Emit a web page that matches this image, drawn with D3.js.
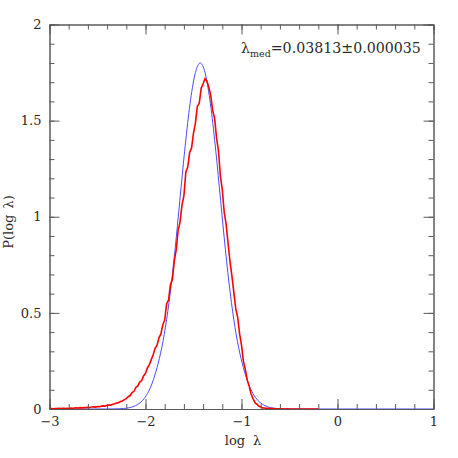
<!DOCTYPE html>
<html>
<head>
<meta charset="utf-8">
<script src="https://cdn.jsdelivr.net/npm/d3@7"></script>
<style>
  body { margin: 0; background: #fff; }
  text { font-family: "DejaVu Serif", serif; fill: #2a2a2a; }
</style>
</head>
<body>
<div id="chart"></div>
<script>
// tick values
var xTicks = [-3, -2, -1, 0, 1];
var xTickLabels = ["\u22123", "\u22122", "\u22121", "0", "1"];
var yTicks = [0, 0.5, 1, 1.5, 2];
var yTickLabels = ["0", "0.5", "1", "1.5", "2"];

// blue curve (model)
var blueX = [-3, -2.43, -2.33, -2.23, -2.18, -2.13, -2.08, -2.03, -1.98, -1.93, -1.88, -1.83, -1.78, -1.73, -1.68, -1.63, -1.58, -1.53, -1.48,
    -1.43,
    -1.38, -1.33, -1.28, -1.23, -1.18, -1.13, -1.08, -1.03, -0.98, -0.93, -0.88, -0.83, -0.78, -0.73, -0.68, -0.63, -0.53, -0.43, 1];
var blueY = [0, 0, 0.0005, 0.0025, 0.0055, 0.012, 0.024, 0.045, 0.08, 0.135, 0.215, 0.32, 0.465, 0.655, 0.89, 1.15, 1.40, 1.61, 1.75,
    1.80,
    1.75, 1.61, 1.40, 1.15, 0.89, 0.655, 0.465, 0.32, 0.215, 0.135, 0.08, 0.045, 0.024, 0.012, 0.0055, 0.0025, 0.0005, 0, 0];

// red histogram, bins of 0.02 in log lambda starting at -3
var redStart = -3;
var redStep = 0.02;
var redY = [
    0.001, 0.002, 0.001, 0.002, 0.002, 0.003, 0.002, 0.003, 0.003, 0.004,
    0.003, 0.005, 0.004, 0.005, 0.006, 0.005, 0.007, 0.006, 0.008, 0.007,
    0.009, 0.008, 0.010, 0.011, 0.010, 0.013, 0.012, 0.015, 0.016, 0.015,
    0.019, 0.021, 0.020, 0.025, 0.027, 0.031, 0.033, 0.039, 0.042, 0.049,
    0.054, 0.064, 0.070, 0.085, 0.092, 0.112, 0.120, 0.140, 0.148, 0.172,
    0.186, 0.214, 0.231, 0.257, 0.282, 0.316, 0.331, 0.370, 0.389, 0.438,
    0.463, 0.548, 0.566, 0.648, 0.672, 0.770, 0.828, 0.931, 0.972, 1.062,
    1.108, 1.232, 1.258, 1.335, 1.358, 1.435, 1.488, 1.575, 1.590, 1.668,
    1.692, 1.718, 1.705, 1.672, 1.630, 1.552, 1.512, 1.410, 1.342, 1.212,
    1.140, 1.022, 0.962, 0.862, 0.768, 0.692, 0.608, 0.522, 0.478, 0.392,
    0.332, 0.248, 0.206, 0.150, 0.119, 0.078, 0.054, 0.033, 0.025, 0.015,
    0.011, 0.006, 0.005, 0.003, 0.003, 0.002, 0.002, 0.001, 0.001, 0.001,
    0.000, 0.001, 0.000, 0.000, 0.001, 0.000, 0.000, 0.000, 0.000, 0.000,
    0.000, 0.000, 0.000, 0.000, 0.000, 0.000, 0.000, 0.000, 0.000, 0.000,
    0.000
];

var annotation = "0.03813\u00b10.000035";

// sizes
var svgWidth = 458;
var svgHeight = 458;
var plot = { left: 49.5, right: 433.5, top: 24.5, bottom: 409 };

var svg = d3.select("#chart")
    .append("svg")
    .attr("width", svgWidth)
    .attr("height", svgHeight);

var x = d3.scaleLinear().domain([-3, 1]).range([plot.left, plot.right]);
var y = d3.scaleLinear().domain([0, 2]).range([plot.bottom, plot.top]);

var xMinor = d3.range(-3, 1.0001, 0.2);
var yMinor = d3.range(0, 2.0001, 0.1);

var axisColor = "#5a5a5a";

// draw one side of the frame: minor ticks, then major ticks (+ labels)
function side(axisFn, scale, pos, major, minor, labels) {
    var g = svg.append("g").attr("transform", pos);
    g.call(axisFn(scale).tickValues(minor).tickSize(-5).tickFormat(""));
    var m = svg.append("g").attr("transform", pos);
    m.call(axisFn(scale).tickValues(major).tickSizeInner(-10).tickSizeOuter(0).tickPadding(8)
        .tickFormat(labels ? (d, i) => labels[i] : ""));
    [g, m].forEach(function(s) {
        s.selectAll("path, line").attr("stroke", axisColor).attr("stroke-width", 1);
        s.selectAll("text").style("font-family", "DejaVu Serif").style("font-size", "13px").attr("fill", "#2a2a2a");
    });
    return m;
}

// clip the curves to the frame
svg.append("clipPath").attr("id", "clip")
    .append("rect")
    .attr("x", plot.left).attr("y", plot.top)
    .attr("width", plot.right - plot.left).attr("height", plot.bottom - plot.top);

var curves = svg.append("g").attr("clip-path", "url(#clip)");

var blueLine = d3.line()
    .x((d, i) => x(blueX[i]))
    .y(d => y(d))
    .curve(d3.curveMonotoneX);

curves.append("path")
    .datum(blueY)
    .attr("d", blueLine)
    .attr("fill", "none")
    .attr("stroke", "#4a4aff")
    .attr("stroke-width", 1);

var redLine = d3.line()
    .x((d, i) => x(redStart + i * redStep))
    .y(d => y(d));

curves.append("path")
    .datum(redY)
    .attr("d", redLine)
    .attr("fill", "none")
    .attr("stroke", "#ff0000")
    .attr("stroke-width", 1.6);

// frame + ticks
side(d3.axisBottom, x, `translate(0, ${plot.bottom})`, xTicks, xMinor, xTickLabels);
side(d3.axisTop, x, `translate(0, ${plot.top})`, xTicks, xMinor, null);
side(d3.axisLeft, y, `translate(${plot.left}, 0)`, yTicks, yMinor, yTickLabels);
side(d3.axisRight, y, `translate(${plot.right}, 0)`, yTicks, yMinor, null);

// axis titles
var xTitle = svg.append("text")
    .attr("x", 243)
    .attr("y", 445)
    .attr("text-anchor", "middle")
    .style("font-size", "13px");
xTitle.append("tspan").text("log");
xTitle.append("tspan").attr("dx", 8).text("\u03bb");

var yTitle = svg.append("text")
    .attr("transform", "translate(13, 222) rotate(-90)")
    .attr("text-anchor", "middle")
    .style("font-size", "13px");
yTitle.append("tspan").text("P(log");
yTitle.append("tspan").attr("dx", 6).text("\u03bb)");

// median annotation
var note = svg.append("text")
    .attr("x", 241)
    .attr("y", 53)
    .style("font-size", "14.2px");
note.append("tspan").text("\u03bb");
note.append("tspan").attr("dy", 4).style("font-size", "9.5px").text("med");
note.append("tspan").attr("dy", -4).text("=" + annotation);
</script>
</body>
</html>
